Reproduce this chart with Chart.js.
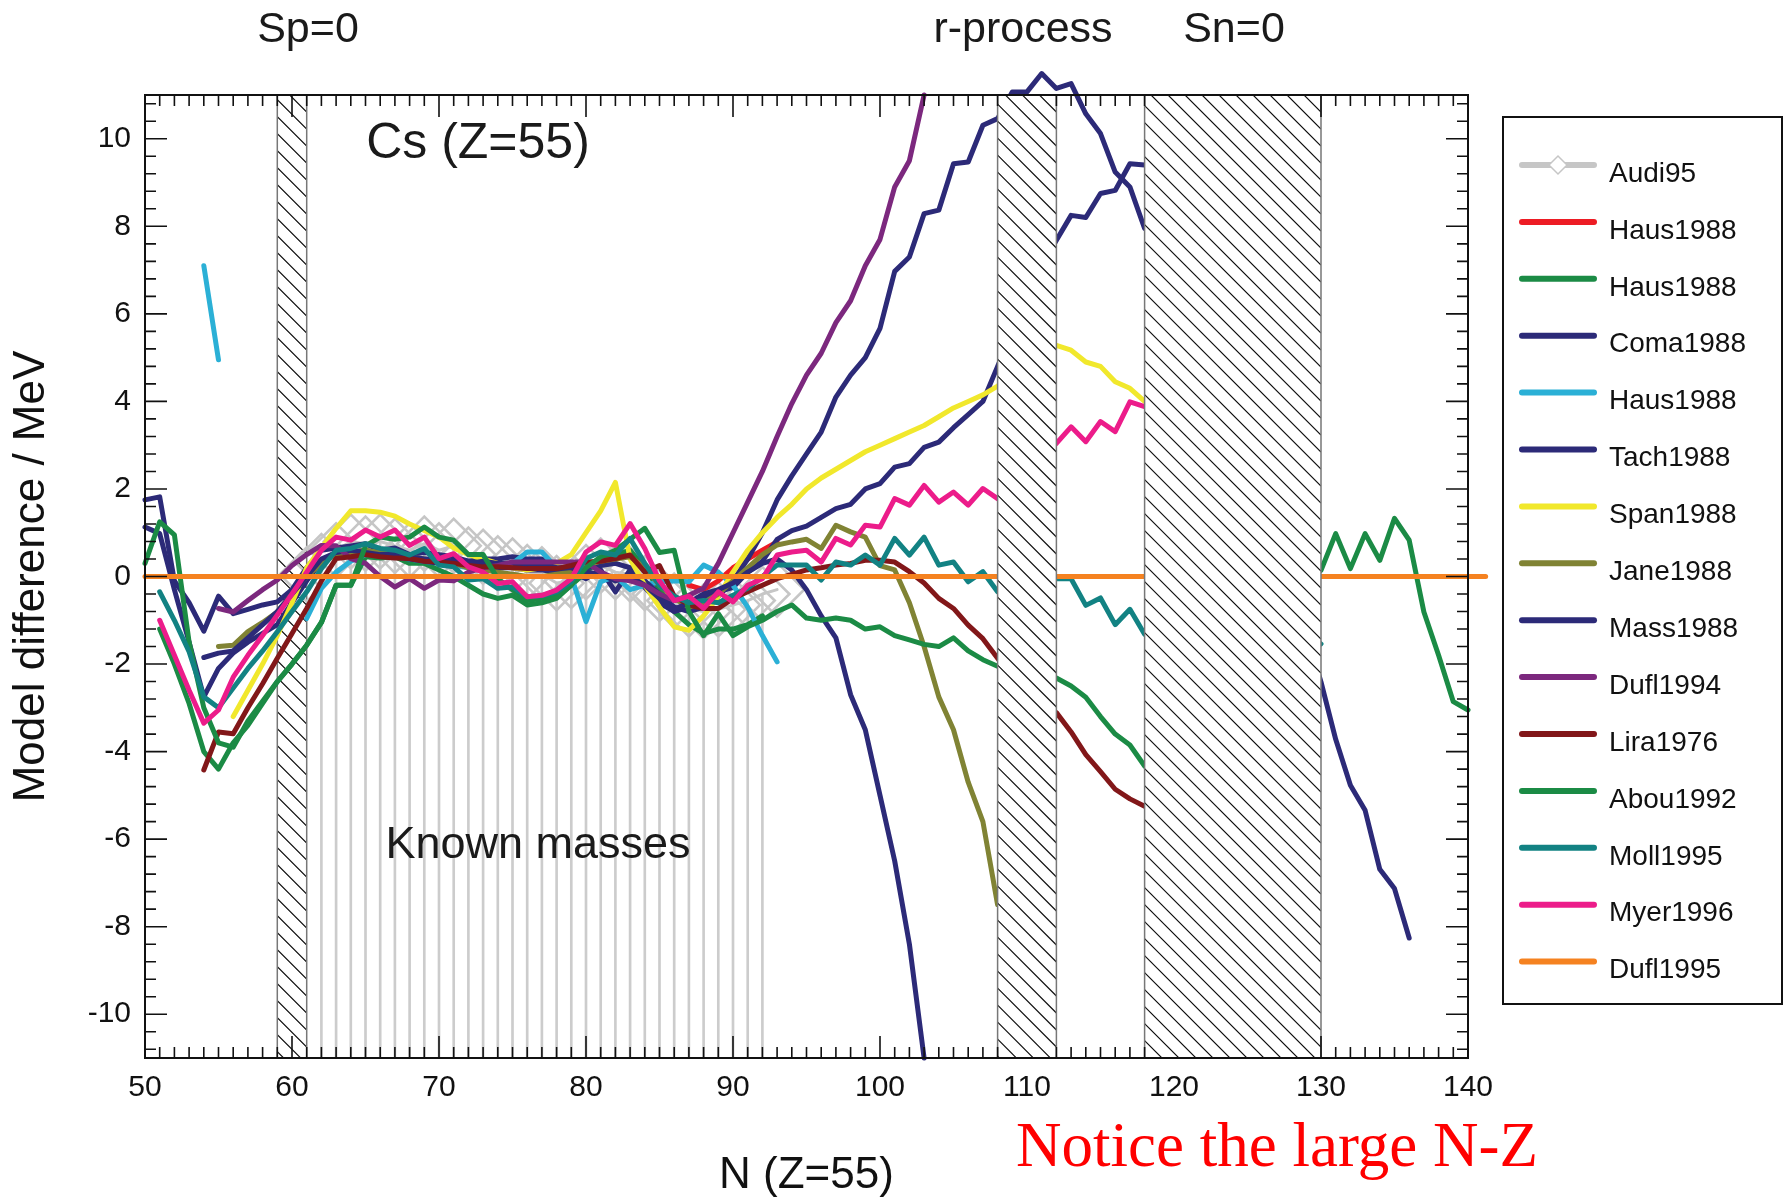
<!DOCTYPE html>
<html>
<head>
<meta charset="utf-8">
<script src="https://cdn.jsdelivr.net/npm/chart.js@4.4.0/dist/chart.umd.min.js"></script>
<style>
  html, body { margin: 0; padding: 0; background: #fff; }
</style>
</head>
<body>
<canvas id="chart" width="1789" height="1198"></canvas>
<script>
const FONT = '"Liberation Sans", Arial, sans-serif';

// axis ticks
const xTicks = [50, 60, 70, 80, 90, 100, 110, 120, 130, 140];
const yTicks = [-10, -8, -6, -4, -2, 0, 2, 4, 6, 8, 10];

// hatched bands (Sp=0, r-process, Sn=0), in N
const hatchBands = [[59, 61], [108, 112], [118, 130]];

// each series: first N, then one value per N (MeV), null = no value
const audi95Start = 61;
const audi95 = [0.05, 0.35, 0.6, 0.8, 0.75, 0.8, 0.7, 0.6, 0.75, 0.6, 0.7, 0.5, 0.45, 0.3, 0.25, 0.1,
  0.05, -0.15, -0.1, 0.1, 0.25, 0.1, 0.05, -0.15, -0.4, -0.55, -0.75, -0.8, -0.75, -0.65, -0.55, -0.4, -0.3];

const knownMassN = [62, 63, 64, 65, 66, 67, 68, 69, 70, 71, 72, 73, 74, 75, 76, 77, 78, 79, 80,
  81, 82, 83, 84, 85, 86, 87, 88, 89, 90, 91, 92];

const hausRedStart = 87;
const hausRed = [-0.2, -0.3, -0.1, 0.2, 0.4, 0.6, 0.79];

const hausGreenStart = 51;
const hausGreen = [-1.2, -2.0, -2.9, -4.0, -4.4, -3.8, -3.4, -2.9, -2.4, -2.0, -1.57, -1.05, -0.2, -0.2,
  0.45, 0.42, 0.45, 0.3, 0.3, 0.15, 0.0, -0.2, -0.4, -0.5, -0.43, -0.65, -0.6, -0.5, -0.2, 0.1, 0.4,
  0.5, 0.6, 0.2, -0.3, -0.8, -1.1, -1.3, -1.2, -1.2, -1.1, -0.9];

const coma1988Start = 50;
const coma1988 = [1.75, 1.82, -0.1, -0.6, -1.25, -0.45, -0.85, -0.75, -0.65, -0.58, -0.3, 0.2, 0.6,
  0.65, 0.7, 0.75, 0.6, 0.65, 0.5, 0.55, 0.5, 0.45, 0.35, 0.4, 0.4, 0.45, 0.4, 0.4, 0.05, 0.1, -0.05,
  0.15, -0.35, 0.15, -0.25, -0.6, -0.8, -0.7, -0.5, -0.35, -0.25, 0.1, 0.35, 0.85, 1.05, 1.15, 1.35,
  1.55, 1.65, 2.0, 2.12, 2.5, 2.58, 2.95, 3.07, 3.4, 3.7, 4.0, 4.8, 5.6, 6.4, 7.1, 7.68, 8.25, 8.2,
  8.75, 8.82, 9.43, 9.4];

const hausCyanStart = 54;
const hausCyan = [7.1, 4.95, null, null, null, null, null, -0.96, -0.27, 0.1, 0.35, 0.5, 0.5, 0.45,
  0.4, 0.35, 0.3, 0.25, 0.2, 0.2, 0.2, 0.3, 0.56, 0.56, 0.2, 0.0, -1.03, -0.12, 0.0, -0.3, -0.2,
  -0.12, -0.1, -0.12, 0.26, 0.1, -0.2, -0.7, -1.35, -1.95];

const tach1988Start = 50;
const tach1988 = [1.13, 0.98, -0.3, -1.5, -2.75, -2.1, -1.75, -1.5, -1.3, -1.1, -0.6, -0.1, 0.35,
  0.5, 0.55, 0.6, 0.5, 0.45, 0.4, 0.35, 0.3, 0.3, 0.25, 0.25, 0.2, 0.2, 0.15, 0.15, 0.1, 0.15, 0.2,
  0.25, 0.3, 0.2, -0.1, -0.4, -0.7, -0.8, -0.7, -0.45, -0.1, 0.4, 1.0, 1.75, 2.3, 2.8, 3.3, 4.1, 4.6,
  5.0, 5.67, 6.97, 7.3, 8.29, 8.37, 9.43, 9.47, 10.31, 10.46, 11.07, 11.07, 11.49, 11.15, 11.26,
  10.57, 10.12, 9.24, 8.9, 7.95, null, null, null, null, null, null, null, null, null, null, -1.3,
  -2.41, -3.72, -4.77, -5.34, -6.69, -7.13, -8.26];

const span1988Start = 56;
const span1988 = [-3.2, -2.6, -2.0, -1.35, -0.6, 0.2, 0.65, 1.1, 1.5, 1.5, 1.47, 1.38, 1.2, 1.05,
  0.9, 0.65, 0.5, 0.4, 0.3, 0.2, 0.15, 0.2, 0.3, 0.5, 1.0, 1.5, 2.15, 0.4, -0.2, -0.7, -1.15, -1.23,
  -0.9, -0.45, 0.1, 0.6, 1.0, 1.35, 1.65, 2.0, 2.25, 2.45, 2.65, 2.85, 3.0, 3.15, 3.3, 3.45, 3.65,
  3.85, 4.0, 4.15, 4.35, 4.6, 4.85, 5.1, 5.28, 5.17, 4.9, 4.8, 4.45, 4.3, 4.0];

const jane1988Start = 55;
const jane1988 = [-1.6, -1.57, -1.26, -1.05, -0.81, -0.4, 0.0, 0.3, 0.5, 0.55, 0.6, 0.55, 0.5, 0.45,
  0.4, 0.35, 0.3, 0.2, 0.15, 0.1, 0.05, 0.0, 0.0, 0.05, 0.1, 0.25, 0.35, 0.4, 0.45, 0.2, -0.2, -0.5,
  -0.7, -0.6, -0.4, -0.1, 0.2, 0.5, 0.72, 0.79, 0.85, 0.64, 1.17, 1.02, 0.9, 0.25, 0.15, -0.6, -1.6,
  -2.75, -3.5, -4.7, -5.6, -7.5];

const mass1988Start = 54;
const mass1988 = [-1.85, -1.75, -1.7, -1.4, -1.1, -0.8, -0.4, 0.0, 0.4, 0.55, 0.6, 0.55, 0.5, 0.5,
  0.45, 0.4, 0.4, 0.35, 0.3, 0.35, 0.3, 0.3, 0.25, 0.3, 0.2, 0.2, 0.1, 0.05, -0.1, 0.0, -0.2, -0.5,
  -0.75, -0.6, -0.4, -0.3, -0.15, 0.1, 0.3, 0.4, 0.15, -0.3, -0.9, -1.4, -2.7, -3.5, -5.0, -6.5,
  -8.4, -11.0];

const dufl1994Start = 55;
const dufl1994 = [-0.73, -0.81, -0.55, -0.3, -0.08, 0.25, 0.5, 0.71, 0.7, 0.41, 0.3, 0.0, -0.24,
  -0.05, -0.27, -0.08, -0.1, 0.1, 0.2, 0.25, 0.33, 0.33, 0.33, 0.33, 0.33, 0.33, 0.1, -0.05, -0.1,
  -0.2, -0.4, -0.55, -0.43, -0.27, 0.3, 1.0, 1.7, 2.4, 3.2, 3.95, 4.6, 5.1, 5.8, 6.3, 7.1, 7.7, 8.9,
  9.5, 11.0];

const lira1976Start = 54;
const lira1976 = [-4.42, -3.55, -3.59, -3.0, -2.45, -1.87, -1.3, -0.73, -0.1, 0.41, 0.45, 0.5, 0.45,
  0.42, 0.41, 0.35, 0.33, 0.3, 0.25, 0.22, 0.22, 0.2, 0.18, 0.18, 0.18, 0.25, 0.33, 0.35, 0.41, 0.49,
  0.1, 0.25, -0.45, -0.65, -0.73, -0.73, -0.5, -0.35, -0.2, -0.05, 0.05, 0.15, 0.2, 0.26, 0.3, 0.37,
  0.37, 0.33, 0.11, -0.15, -0.5, -0.73, -1.11, -1.42, -1.87, -2.3, -2.6, -2.85, -3.11, -3.55, -4.07,
  -4.46, -4.86, -5.08, -5.25];

const abou1992Start = 50;
const abou1992 = [0.3, 1.25, 0.95, -1.5, -3.0, -3.8, -3.9, -3.3, -2.85, -2.4, -2.0, -1.57, -1.05,
  -0.2, -0.2, 0.7, 0.9, 0.85, 0.9, 1.13, 0.9, 0.83, 0.5, 0.5, -0.05, -0.3, -0.55, -0.5, -0.45, -0.2,
  0.2, 0.45, 0.6, 0.85, 1.1, 0.55, 0.6, -0.8, -1.35, -0.85, -1.35, -1.15, -1.0, -0.8, -0.65, -0.95,
  -1.0, -0.95, -1.0, -1.2, -1.15, -1.35, -1.45, -1.55, -1.6, -1.4, -1.7, -1.9, -2.05, -2.15, -2.2,
  -2.25, -2.32, -2.5, -2.76, -3.2, -3.6, -3.85, -4.33, null, null, null, null, null, null, null, null,
  null, null, 0.0, 0.14, 0.98, 0.18, 0.98, 0.37, 1.33, 0.83, -0.81, -1.8, -2.86, -3.05];

const moll1995Start = 51;
const moll1995 = [-0.35, -1.0, -1.72, -2.75, -3.0, -2.55, -2.1, -1.7, -1.26, -0.8, -0.35, 0.18, 0.6,
  0.64, 0.75, 0.64, 0.6, 0.49, 0.64, 0.26, 0.22, -0.08, -0.05, -0.27, -0.24, -0.46, -0.44, -0.35,
  -0.12, 0.41, 0.56, 0.49, 0.87, 0.3, -0.2, -0.45, -0.6, -0.55, -0.6, -0.43, -0.27, 0.0, 0.26, 0.26,
  0.26, -0.08, 0.33, 0.26, 0.49, 0.26, 0.87, 0.49, 0.9, 0.26, 0.33, -0.12, 0.11, -0.35, -0.2, -0.1,
  -0.05, -0.05, -0.05, -0.66, -0.49, -1.1, -0.75, -1.32, null, null, null, null, null, null, null,
  null, null, null, -1.3, -1.54];

const myer1996Start = 51;
const myer1996 = [-1.0, -1.8, -2.6, -3.35, -3.05, -2.3, -1.8, -1.35, -0.88, -0.4, 0.1, 0.6, 0.9,
  0.83, 1.06, 0.9, 1.06, 0.71, 0.9, 0.41, 0.52, 0.22, 0.1, -0.16, -0.12, -0.46, -0.43, -0.31, -0.05,
  0.56, 0.79, 0.71, 1.21, 0.64, -0.1, -0.55, -0.45, -0.73, -0.35, -0.58, -0.2, -0.05, 0.49, 0.56,
  0.6, 0.33, 0.87, 0.72, 1.17, 1.13, 1.78, 1.63, 2.08, 1.7, 1.93, 1.63, 2.01, 1.78, 2.2, 2.6, 2.8,
  3.04, 3.42, 3.08, 3.54, 3.31, 3.99, 3.88];

const dufl1995N = [50, 141.2];
const dufl1995 = [0, 0];

function pts(start, vals) {
  return vals.map((v, i) => ({ x: start + i, y: v }));
}

const series = [
  { label: 'Audi95', color: '#c6c6c6', data: pts(audi95Start, audi95), audi: true },
  { label: 'Haus1988', color: '#ed1c24', data: pts(hausRedStart, hausRed) },
  { label: 'Haus1988', color: '#1b8b45', data: pts(hausGreenStart, hausGreen) },
  { label: 'Coma1988', color: '#2c2a78', data: pts(coma1988Start, coma1988) },
  { label: 'Haus1988', color: '#2bb0d6', data: pts(hausCyanStart, hausCyan) },
  { label: 'Tach1988', color: '#2c2a78', data: pts(tach1988Start, tach1988) },
  { label: 'Span1988', color: '#f1e82c', data: pts(span1988Start, span1988) },
  { label: 'Jane1988', color: '#808334', data: pts(jane1988Start, jane1988) },
  { label: 'Mass1988', color: '#2c2a78', data: pts(mass1988Start, mass1988) },
  { label: 'Dufl1994', color: '#7c287e', data: pts(dufl1994Start, dufl1994) },
  { label: 'Lira1976', color: '#821719', data: pts(lira1976Start, lira1976) },
  { label: 'Abou1992', color: '#1b8b45', data: pts(abou1992Start, abou1992) },
  { label: 'Moll1995', color: '#128283', data: pts(moll1995Start, moll1995) },
  { label: 'Myer1996', color: '#ec1c8a', data: pts(myer1996Start, myer1996) },
  { label: 'Dufl1995', color: '#f58220', data: dufl1995N.map((n, i) => ({ x: n, y: dufl1995[i] })) }
];

const datasets = series.map((s, i) => ({
  type: 'line',
  label: s.label,
  data: s.data,
  borderColor: s.color,
  backgroundColor: s.color,
  borderWidth: s.audi ? 3 : 5,
  pointRadius: s.audi ? 27 : 0,
  pointStyle: 'rectRot',
  pointBorderColor: s.color,
  pointBackgroundColor: 'rgba(0,0,0,0)',
  pointBorderWidth: 2.6,
  borderCapStyle: 'round',
  borderJoinStyle: 'round',
  spanGaps: false,
  clip: false,
  order: 100 - i
}));

// grey lines of the known masses, from the bottom up to Audi95
datasets.push({
  type: 'bar',
  label: 'known',
  data: knownMassN.map(n => ({ x: n, y: [-11, audi95[n - audi95Start]] })),
  backgroundColor: '#cccccc',
  barThickness: 2,
  order: 200
});

function drawHatch(ctx, area, x1, x2, white, gap) {
  ctx.save();
  ctx.beginPath();
  ctx.rect(x1, area.top, x2 - x1, area.bottom - area.top);
  if (white) {
    ctx.fillStyle = '#fff';
    ctx.fill();
  }
  ctx.clip();
  ctx.strokeStyle = '#111';
  ctx.lineWidth = 1.2;
  ctx.beginPath();
  const w = x2 - x1;
  for (let y = area.top - w; y < area.bottom; y += gap) {
    ctx.moveTo(x1, y);
    ctx.lineTo(x2, y + w);
  }
  ctx.stroke();
  ctx.restore();
  ctx.save();
  ctx.strokeStyle = '#777';
  ctx.lineWidth = 1.5;
  ctx.beginPath();
  ctx.moveTo(x1, area.top); ctx.lineTo(x1, area.bottom);
  ctx.moveTo(x2, area.top); ctx.lineTo(x2, area.bottom);
  ctx.stroke();
  ctx.restore();
}

function inBand(n) {
  return hatchBands.slice(1).some(b => n > b[0] && n < b[1]);
}

const decorations = {
  id: 'decorations',
  beforeDatasetsDraw(chart) {
    const { ctx, chartArea, scales: { x } } = chart;
    const b = hatchBands[0];
    drawHatch(ctx, chartArea, x.getPixelForValue(b[0]), x.getPixelForValue(b[1]), false, 17);
  },
  afterDatasetsDraw(chart) {
    const { ctx, chartArea: a, scales: { x, y } } = chart;
    hatchBands.slice(1).forEach(b => {
      drawHatch(ctx, a, x.getPixelForValue(b[0]), x.getPixelForValue(b[1]), true, 17);
    });

    // frame and inward ticks
    ctx.save();
    ctx.strokeStyle = '#111';
    ctx.lineWidth = 2;
    ctx.strokeRect(a.left, a.top, a.right - a.left, a.bottom - a.top);
    ctx.lineWidth = 1.6;
    ctx.beginPath();
    for (let n = 51; n < 140; n++) {
      if (inBand(n)) continue;
      const px = x.getPixelForValue(n);
      const len = n % 10 === 0 ? 22 : 11;
      ctx.moveTo(px, a.bottom); ctx.lineTo(px, a.bottom - len);
      ctx.moveTo(px, a.top); ctx.lineTo(px, a.top + len);
    }
    for (let k = -27; k <= 27; k++) {
      const v = k * 0.4;
      const py = y.getPixelForValue(v);
      const len = k % 5 === 0 ? 22 : 11;
      ctx.moveTo(a.left, py); ctx.lineTo(a.left + len, py);
      ctx.moveTo(a.right, py); ctx.lineTo(a.right - len, py);
    }
    ctx.stroke();
    ctx.restore();

    // legend box
    ctx.save();
    ctx.strokeStyle = '#111';
    ctx.lineWidth = 2;
    ctx.strokeRect(1503, 117, 279, 887);
    ctx.font = '28px ' + FONT;
    ctx.textBaseline = 'middle';
    ctx.fillStyle = '#111';
    series.forEach((s, i) => {
      const ty = 174 + i * 56.9;
      const ly = ty - 9;
      ctx.strokeStyle = s.color;
      ctx.lineCap = 'round';
      ctx.lineWidth = 6;
      ctx.beginPath();
      ctx.moveTo(1522, ly); ctx.lineTo(1594, ly);
      ctx.stroke();
      if (s.audi) {
        ctx.fillStyle = '#fff';
        ctx.lineWidth = 1.5;
        ctx.beginPath();
        ctx.moveTo(1558 - 9, ly); ctx.lineTo(1558, ly - 9);
        ctx.lineTo(1558 + 9, ly); ctx.lineTo(1558, ly + 9);
        ctx.closePath();
        ctx.fill(); ctx.stroke();
        ctx.fillStyle = '#111';
      }
      ctx.fillText(s.label, 1609, ty);
    });
    ctx.restore();

    // annotations
    ctx.save();
    ctx.fillStyle = '#1a1a1a';
    ctx.textAlign = 'center';
    ctx.textBaseline = 'middle';
    ctx.font = '43px ' + FONT;
    ctx.fillText('Sp=0', 308, 30);
    ctx.fillText('r-process', 1023, 30);
    ctx.fillText('Sn=0', 1234, 30);
    ctx.font = '50px ' + FONT;
    ctx.fillText('Cs (Z=55)', 478, 144);
    ctx.font = '45px ' + FONT;
    ctx.fillText('Known masses', 538, 846);
    ctx.fillStyle = '#ff0000';
    ctx.font = '63px "Liberation Serif", "Times New Roman", serif';
    ctx.fillText('Notice the large N-Z', 1277, 1149);
    ctx.restore();
  }
};

new Chart(document.getElementById('chart'), {
  type: 'line',
  data: { datasets },
  options: {
    responsive: false,
    animation: false,
    layout: { padding: { top: 95, right: 321, left: 0, bottom: 0 } },
    plugins: { legend: { display: false }, tooltip: { enabled: false } },
    elements: { line: { tension: 0 } },
    scales: {
      x: {
        type: 'linear',
        min: 50,
        max: 140,
        offset: false,
        grid: { display: false, drawTicks: false },
        border: { display: false },
        afterBuildTicks: s => { s.ticks = xTicks.map(v => ({ value: v })); },
        afterFit: s => { s.height = 140; },
        ticks: { color: '#111', padding: 12, maxRotation: 0, autoSkip: false, font: { family: FONT, size: 30 } },
        title: { display: true, text: 'N (Z=55)', color: '#111', padding: { top: 0, bottom: 0 },
          font: { family: FONT, size: 44, lineHeight: 1 } }
      },
      y: {
        type: 'linear',
        min: -11,
        max: 11,
        grid: { display: false, drawTicks: false },
        border: { display: false },
        afterBuildTicks: s => { s.ticks = yTicks.map(v => ({ value: v })); },
        afterFit: s => { s.width = 145; },
        ticks: { color: '#111', padding: 14, autoSkip: false, font: { family: FONT, size: 30 } },
        title: { display: true, text: 'Model difference / MeV', color: '#111', padding: { top: 10, bottom: 0 },
          font: { family: FONT, size: 44, lineHeight: 1 } }
      }
    }
  },
  plugins: [decorations]
});
</script>
</body>
</html>
